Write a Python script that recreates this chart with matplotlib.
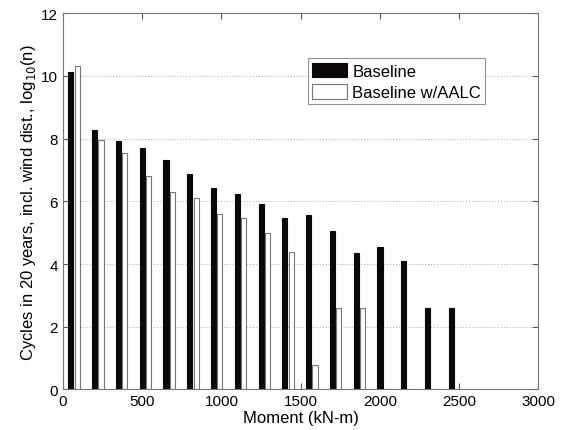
import numpy as np
import matplotlib
matplotlib.use("Agg")
import matplotlib.pyplot as plt

plt.rcParams['font.family'] = ['Liberation Sans', 'DejaVu Sans']

# bin centres of the moment histogram (kN-m)
moment = [70, 220, 370, 520, 670, 820, 970, 1120, 1270, 1420,
          1570, 1720, 1870, 2020, 2170, 2320, 2470]
# log10 of cycles in 20 years
baseline = [10.11, 8.27, 7.94, 7.69, 7.31, 6.86, 6.42, 6.22, 5.93, 5.48,
            5.58, 5.04, 4.34, 4.53, 4.09, 2.61, 2.61]
baseline_aalc = [10.32, 7.96, 7.53, 6.82, 6.31, 6.12, 5.61, 5.47, 5.00, 4.39,
                 0.78, 2.61, 2.61, 0, 0, 0, 0]

x = np.array(moment)
w = 32
off = 20

fig = plt.figure(figsize=(5.64, 4.31), dpi=100)
ax = fig.add_axes([0.1117, 0.094, 0.843, 0.873])

ax.bar(x - off, baseline, width=w, color='#0d0808', edgecolor='#0d0808',
       linewidth=0.8, label='Baseline', zorder=3)
ax.bar(x + off, baseline_aalc, width=w, color='white', edgecolor='#777777',
       linewidth=0.8, label='Baseline w/AALC', zorder=3)

ax.set_xlim(0, 3000)
ax.set_ylim(0, 12)
ax.set_xticks(np.arange(0, 3001, 500))
ax.set_yticks(np.arange(0, 13, 2))
ax.tick_params(direction='in', top=True, right=True, length=4,
               labelsize=11, color='#555555')
ax.yaxis.grid(True, linestyle=(0, (1, 2)), color='#aaaaaa', linewidth=0.7)
ax.set_axisbelow(True)
for s in ax.spines.values():
    s.set_color('#777777')
    s.set_linewidth(0.8)

ax.set_xlabel('Moment (kN-m)', fontsize=12, labelpad=1)
ax.set_ylabel('Cycles in 20 years, incl. wind dist., log$_{10}$(n)',
              fontsize=12, labelpad=2)

leg = ax.legend(loc='upper right', bbox_to_anchor=(0.888, 0.88),
                fontsize=12, frameon=True, fancybox=False,
                borderpad=0.25, handlelength=2.1, handleheight=1.0,
                handletextpad=0.3, labelspacing=0.3, borderaxespad=0)
leg.get_frame().set_edgecolor('#777777')
leg.get_frame().set_linewidth(0.8)

fig.savefig('out.png', dpi=100)
